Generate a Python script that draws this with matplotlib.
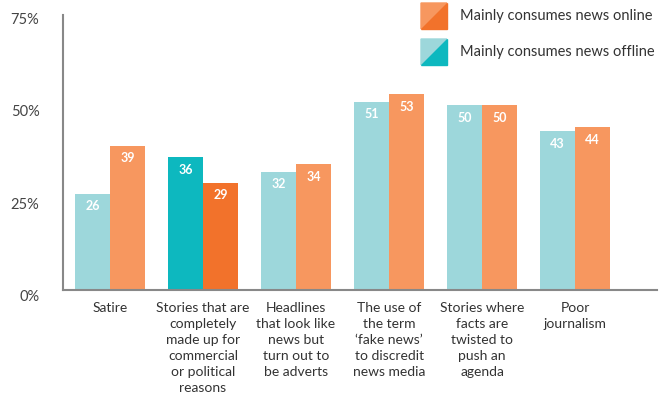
import matplotlib
matplotlib.use('Agg')
import matplotlib.pyplot as plt
from matplotlib.patches import Polygon
import numpy as np

plt.rcParams['font.family'] = ['Lato', 'DejaVu Sans']

categories = ['Satire',
              'Stories that are\ncompletely\nmade up for\ncommercial\nor political\nreasons',
              'Headlines\nthat look like\nnews but\nturn out to\nbe adverts',
              'The use of\nthe term\n\u2018fake news\u2019\nto discredit\nnews media',
              'Stories where\nfacts are\ntwisted to\npush an\nagenda',
              'Poor\njournalism']
offline = [26, 36, 32, 51, 50, 43]
online = [39, 29, 34, 53, 50, 44]
highlight = 1

light_teal = '#9dd7db'
dark_teal = '#0db8bf'
light_orange = '#f7975f'
dark_orange = '#f2722b'

fig = plt.figure(figsize=(6.7, 4.05), dpi=100)
ax = fig.add_axes([63/670, 1 - 290/405, (657-63)/670, (290-13)/405])

x = np.arange(len(categories))
w = 0.376
off_cols = [dark_teal if i == highlight else light_teal for i in x]
on_cols = [dark_orange if i == highlight else light_orange for i in x]
b1 = ax.bar(x - w/2, offline, w, color=off_cols)
b2 = ax.bar(x + w/2, online, w, color=on_cols)

for bars, vals in ((b1, offline), (b2, online)):
    for b, v in zip(bars, vals):
        ax.annotate(str(v), (b.get_x() + b.get_width()/2, v), xytext=(0, -9),
                    textcoords='offset points', ha='center', va='center',
                    color='white', fontsize=9, fontweight='bold')

ax.set_xlim(-0.505, 5.88)
ax.set_ylim(0, 75)
ax.set_yticks([0, 25, 50, 75])
ax.set_yticklabels(['0%', '25%', '50%', '75%'], fontsize=10.5, color='#444444')
for lab in ax.get_yticklabels():
    lab.set_va('top')
ax.tick_params(axis='y', length=0, pad=17)
ax.set_xticks(x)
ax.set_xticklabels(categories, fontsize=10, color='#333333', linespacing=1.4, va='top')
ax.tick_params(axis='x', length=0, pad=9)

for s in ['top', 'right']:
    ax.spines[s].set_visible(False)
for s in ['left', 'bottom']:
    ax.spines[s].set_color('#888888')
    ax.spines[s].set_linewidth(1.5)
ax.spines['left'].set_bounds(0, 74.5)

# legend: split squares
def square(x0, y0, c1, c2):
    x1, y1 = x0 + 26, y0 + 26
    pts = lambda p: [(a/670, 1 - b/405) for a, b in p]
    fig.patches.append(Polygon(pts([(x0, y0), (x1, y0), (x0, y1)]), closed=True,
                               color=c1, transform=fig.transFigure))
    fig.patches.append(Polygon(pts([(x1, y0), (x1, y1), (x0, y1)]), closed=True,
                               color=c2, transform=fig.transFigure))

square(421, 3, light_orange, dark_orange)
square(421, 39, light_teal, dark_teal)
fig.text(460/670, 1 - 16/405, 'Mainly consumes news online', fontsize=10.5,
         color='#333333', va='center')
fig.text(460/670, 1 - 52/405, 'Mainly consumes news offline', fontsize=10.5,
         color='#333333', va='center')

fig.savefig('out.png', dpi=100)
